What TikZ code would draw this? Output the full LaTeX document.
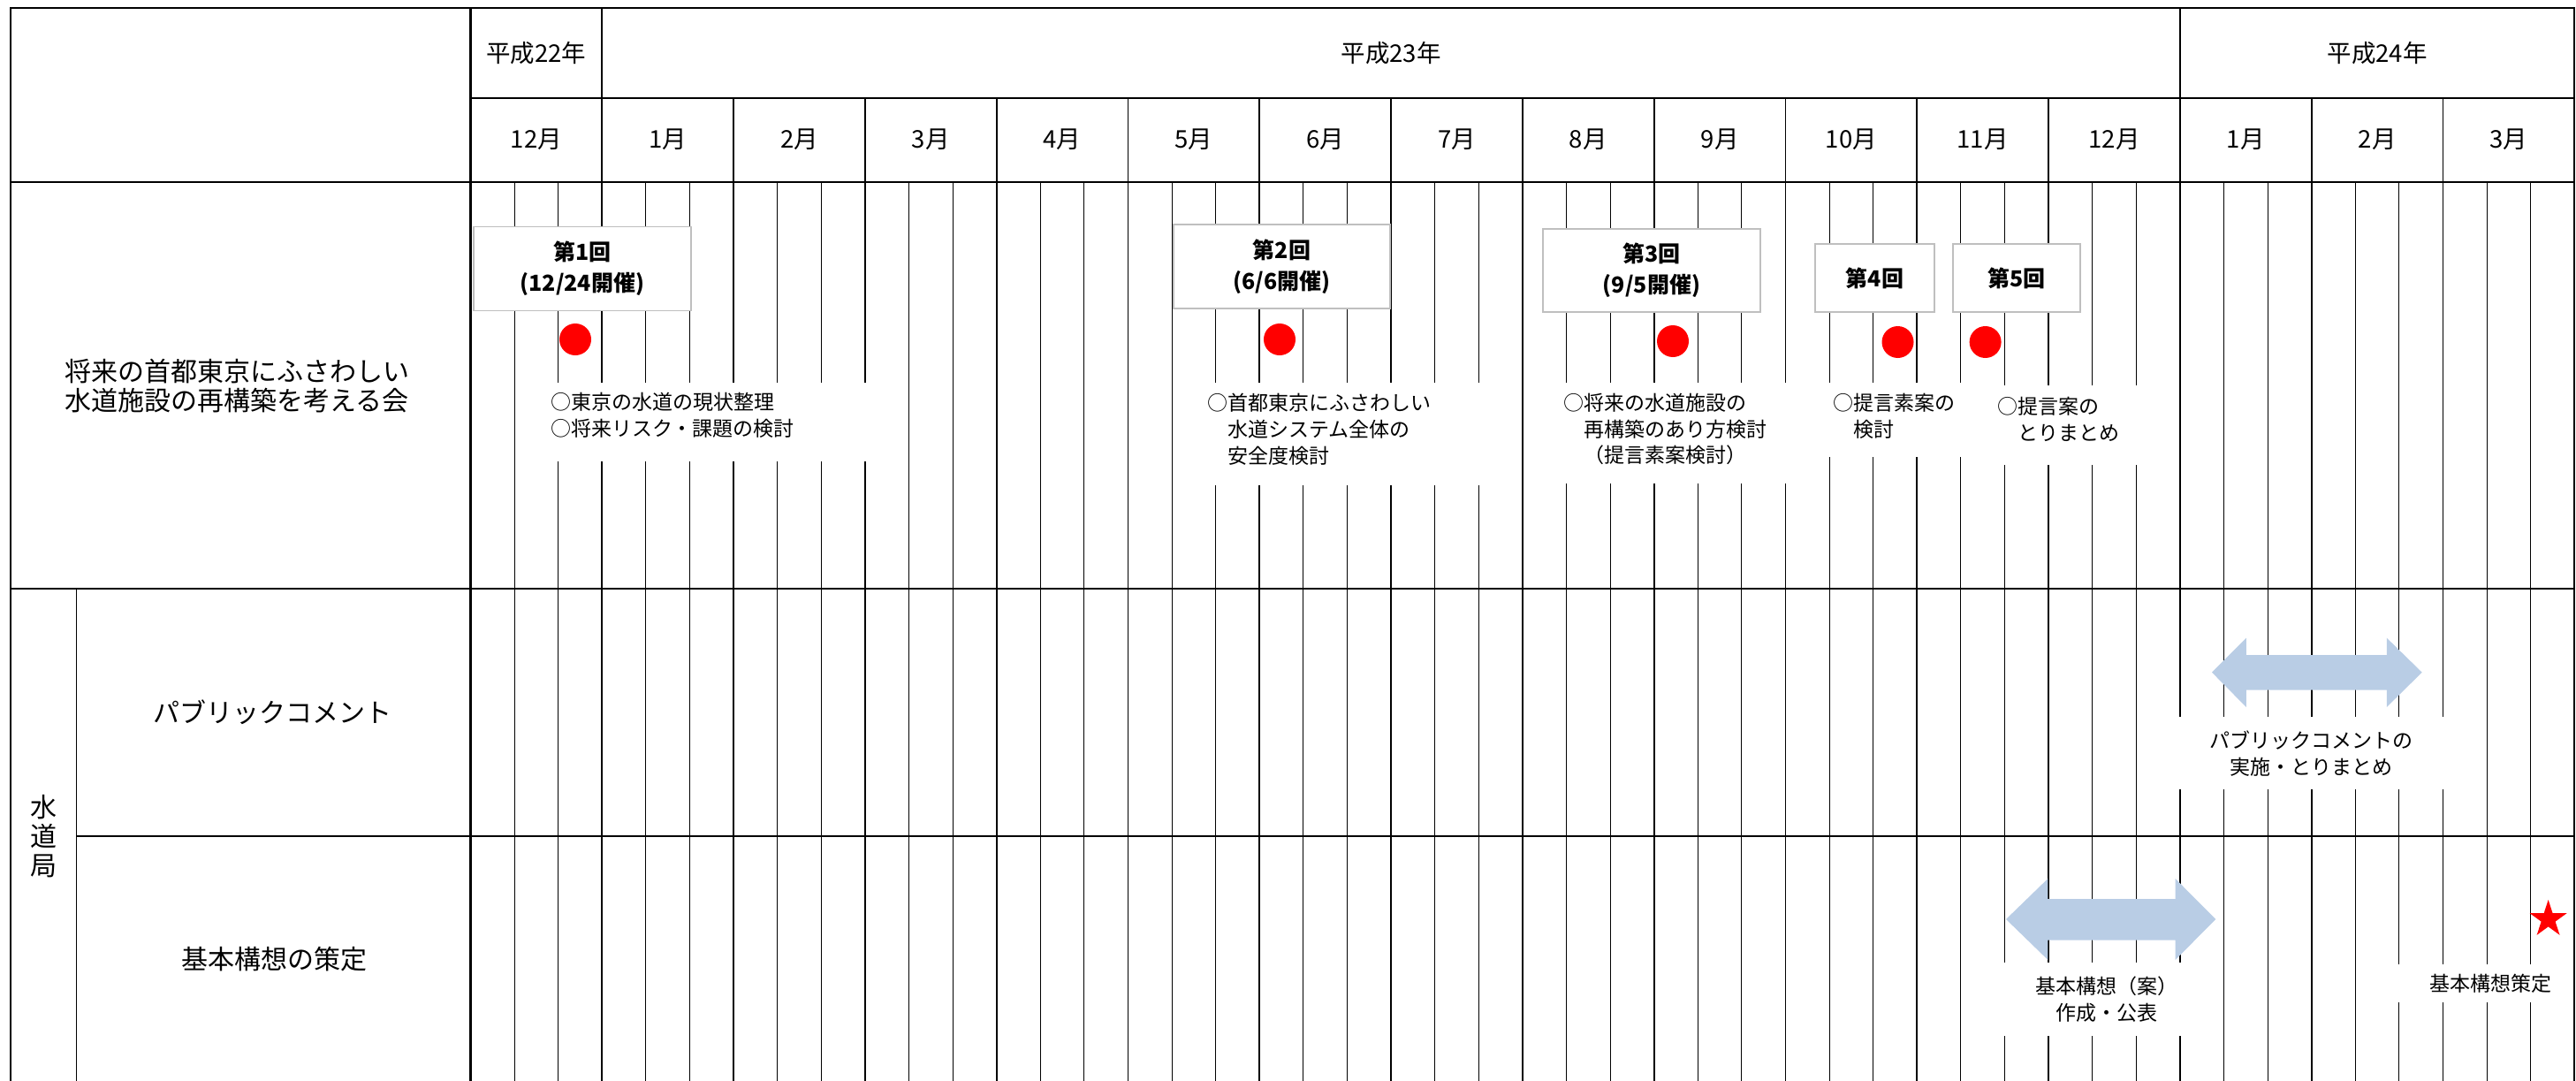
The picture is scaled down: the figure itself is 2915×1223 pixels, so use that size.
\documentclass[tikz,border=0pt]{standalone}
\usepackage{fontspec}
\setmainfont{Noto Sans CJK JP}
\usetikzlibrary{shapes.geometric}
\definecolor{arrowblue}{RGB}{185,205,229}
\definecolor{boxgray}{RGB}{191,191,191}
\definecolor{dotred}{RGB}{255,0,0}
\begin{document}
\begin{tikzpicture}[x=1pt,y=-1pt,
  major/.style={line width=1.8pt},
  minor/.style={line width=0.9pt},
  border/.style={line width=2.2pt},
  mask/.style={fill=white},
  hdr/.style={font=\fontsize{27.5}{29}\selectfont, inner sep=0},
  lbl/.style={font=\fontsize{30}{33}\selectfont, inner sep=0, align=center},
  desc/.style={font=\fontsize{23}{29.7}\selectfont, inner sep=0, align=left, anchor=west},
  descc/.style={font=\fontsize{23}{30}\selectfont, inner sep=0, align=center},
  mbox/.style={draw=boxgray, line width=1.5pt, fill=white, inner sep=0,
    font=\fontsize{25}{35}\selectfont\bfseries, align=center},
  dot/.style={circle, fill=dotred, inner sep=0, minimum size=36pt},
  bigarrow/.style={fill=arrowblue}
]
\useasboundingbox (0,0) rectangle (2915,1223);

% body grid: dekad lines and month lines
\foreach \i in {0,...,15}{
  \pgfmathsetmacro\xa{532.5+\i*148.8}
  \pgfmathsetmacro\xb{\xa+49.6}
  \pgfmathsetmacro\xc{\xa+99.2}
  \draw[minor] (\xb,206) -- (\xb,1223);
  \draw[minor] (\xc,206) -- (\xc,1223);
}
\foreach \i in {1,...,15}{
  \pgfmathsetmacro\xa{532.5+\i*148.8}
  \draw[major] (\xa,110.7) -- (\xa,1223);
}
% year separators
\draw[major] (681.3,9) -- (681.3,110.7);
\draw[major] (2467.2,9) -- (2467.2,110.7);
% horizontal lines
\draw[border] (532.5,110.7) -- (2913.3,110.7);
\draw[border] (12,206) -- (2913.3,206);
\draw[border] (12,665.7) -- (2913.3,665.7);
\draw[line width=1.4pt] (86,946) -- (2913.3,946);
\draw[minor] (86,665.7) -- (86,1223);
% outer frame and label column
\draw[border] (12,1223) -- (12,9) -- (2913.3,9) -- (2913.3,1223);
\draw[border] (532.5,9) -- (532.5,1223);

% white text areas
\fill[mask] (605,433) rectangle (1005,522);
\fill[mask] (1350,433) rectangle (1700,549);
\fill[mask] (1750,433) rectangle (2045,547);
\fill[mask] (2055,433) rectangle (2240,517);
\fill[mask] (2245,436) rectangle (2442,526);
\fill[mask] (2442,811) rectangle (2790,893);
\fill[mask] (2250,1089) rectangle (2492,1172);
\fill[mask] (2700,1091) rectangle (2905,1134);

% header texts
\node[hdr] (y22) at (606.9,60) {平成22年};
\node[hdr] (y23) at (1574.1,60) {平成23年};
\node[hdr] (y24) at (2690.2,60) {平成24年};
\foreach \m [count=\i from 0] in {12,1,2,3,4,5,6,7,8,9,10,11,12,1,2,3}{
  \pgfmathsetmacro\xm{532.5+\i*148.8+74.4}
  \node[hdr] (m\i) at (\xm,158) {\m 月};
}

% row labels
\node[lbl] (kai) at (268,436.5) {将来の首都東京にふさわしい\\水道施設の再構築を考える会};
\node[lbl] (kyoku) at (49,946) {水\\道\\局};
\node[lbl] (pc) at (308.6,806) {パブリックコメント};
\node[lbl] (kihon) at (310.4,1085) {基本構想の策定};

% meeting boxes
\node[mbox, minimum width=246.3pt, minimum height=95pt] (k1) at (658.9,304.2) {第1回\\(12/24開催)};
\node[mbox, minimum width=245pt, minimum height=95pt] (k2) at (1450.5,301.5) {第2回\\(6/6開催)};
\node[mbox, minimum width=246pt, minimum height=94pt] (k3) at (1869,306) {第3回\\(9/5開催)};
\node[mbox, minimum width=135pt, minimum height=77pt] (k4) at (2121.5,314.5) {第4回};
\node[mbox, minimum width=144pt, minimum height=77pt] (k5) at (2282,314.5) {第5回};

% meeting dots
\node[dot] (p1) at (651,384) {};
\node[dot] (p2) at (1448,384) {};
\node[dot] (p3) at (1893,386) {};
\node[dot] (p4) at (2147.5,387) {};
\node[dot] (p5) at (2246.6,387) {};

% descriptions
\node[desc] (d1) at (623,470) {○東京の水道の現状整理\\○将来リスク・課題の検討};
\node[desc] (d2) at (1366,485.7) {○首都東京にふさわしい\\　水道システム全体の\\　安全度検討};
\node[desc] (d3) at (1769,485.7) {○将来の水道施設の\\　再構築のあり方検討\\　（提言素案検討）};
\node[desc] (d4) at (2074,471) {○提言素案の\\　検討};
\node[desc] (d5) at (2260.6,474.5) {○提言案の\\　とりまとめ};

% double arrows
\fill[bigarrow] (2503,760.7) -- (2541.8,721.7) -- (2541.8,741) -- (2700.8,741) -- (2700.8,721.7)
  -- (2740.7,760.7) -- (2700.8,800) -- (2700.8,780.7) -- (2541.8,780.7) -- (2541.8,800) -- cycle;
\fill[bigarrow] (2270,1040) -- (2317.4,994) -- (2317.4,1017) -- (2461.5,1017) -- (2461.5,994)
  -- (2507.4,1040) -- (2461.5,1086) -- (2461.5,1063.7) -- (2317.4,1063.7) -- (2317.4,1086) -- cycle;

\node[descc] (pct) at (2615,853) {パブリックコメントの\\実施・とりまとめ};
\node[descc] (kant) at (2384,1130.7) {基本構想（案）\\作成・公表};
\node[descc] (kst) at (2818.8,1113) {基本構想策定};

% star
\node[star, star points=5, star point ratio=2.618, fill=dotred, inner sep=0, minimum size=44pt] (st) at (2883.6,1040) {};
\end{tikzpicture}
\end{document}
